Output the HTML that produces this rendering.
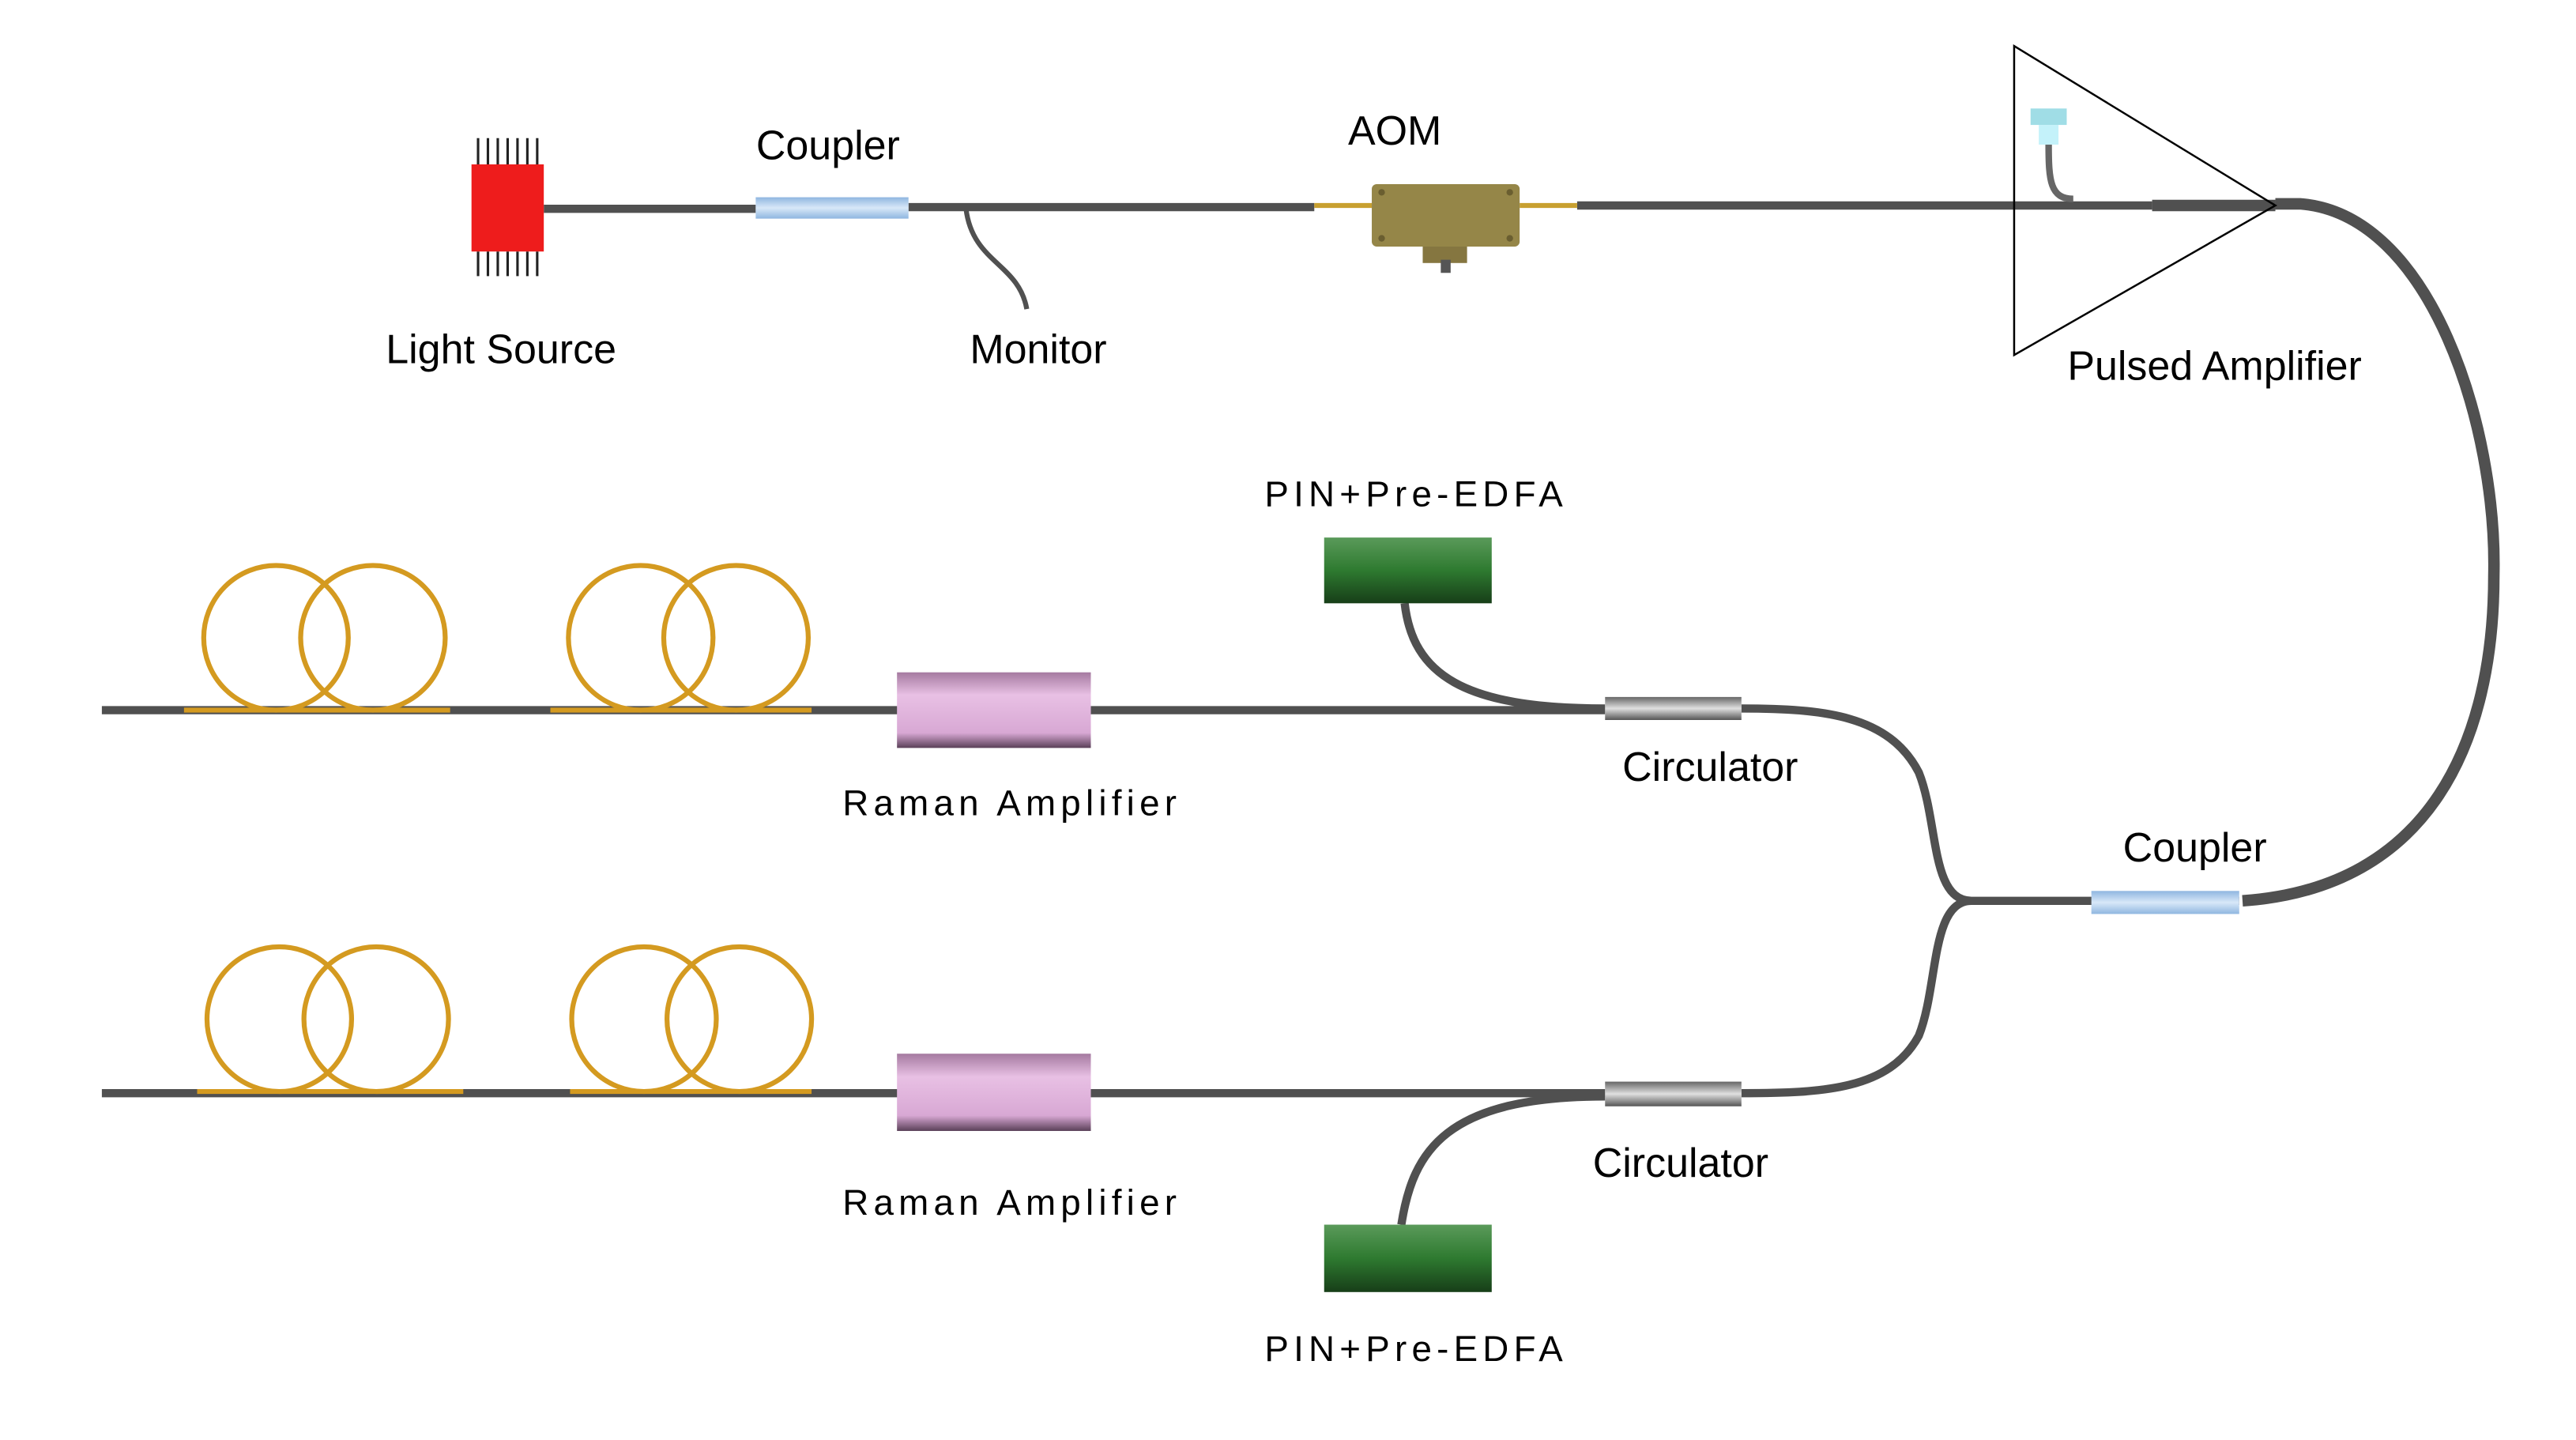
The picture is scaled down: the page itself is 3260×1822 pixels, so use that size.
<!DOCTYPE html>
<html><head><meta charset="utf-8"><style>html,body{margin:0;padding:0;background:#fff}svg{display:block}</style></head><body>
<svg width="3260" height="1822" viewBox="0 0 1568 876" preserveAspectRatio="none" xmlns="http://www.w3.org/2000/svg" font-family="Liberation Sans, sans-serif">
<defs>
<linearGradient id="cb" x1="0" y1="0" x2="0" y2="1"><stop offset="0" stop-color="#8fb6e0"/><stop offset=".5" stop-color="#d8e8f8"/><stop offset="1" stop-color="#8fb6e0"/></linearGradient>
<linearGradient id="cg" x1="0" y1="0" x2="0" y2="1"><stop offset="0" stop-color="#666"/><stop offset=".5" stop-color="#e0e0e0"/><stop offset="1" stop-color="#555"/></linearGradient>
<linearGradient id="pk" x1="0" y1="0" x2="0" y2="1"><stop offset="0" stop-color="#a57aa0"/><stop offset=".3" stop-color="#e8c0e4"/><stop offset=".8" stop-color="#d8a8d4"/><stop offset="1" stop-color="#5a4058"/></linearGradient>
<linearGradient id="gr" x1="0" y1="0" x2="0" y2="1"><stop offset="0" stop-color="#5a9a5a"/><stop offset=".5" stop-color="#2e7a30"/><stop offset="1" stop-color="#173e18"/></linearGradient>
</defs>
<g fill="none" stroke="#505050">
<path d="M331 127H460M553 126H800M960 125H1310" stroke-width="5"/>
<path d="M1310 125H1385" stroke-width="7"/>
<path d="M588 127C592 160 620 160 625 188" stroke-width="3"/>
<path d="M1247 88C1247 110 1248 121 1262 121" stroke-width="4" stroke="#666"/>
<path d="M1385 124H1400C1480 130 1520 260 1518 350C1518 450 1480 540 1365 548" stroke-width="7"/>
<path d="M1363 548H1200M1200 548C1175 548 1180 500 1168 470C1150 435 1110 431 1060 431M1200 548C1175 548 1180 600 1168 630C1150 663 1110 665 1060 665" stroke-width="5"/>
<path d="M62 432H977M62 665H977" stroke-width="5"/>
<path d="M855 367C860 410 890 431 977 431M853 745C860 700 880 667 977 667" stroke-width="5"/>
</g>
<path d="M800 125H835M925 125H960" stroke="#c8a030" stroke-width="3"/>
<rect x="835" y="112" width="90" height="38" rx="3" fill="#958648"/>
<rect x="866" y="150" width="27" height="10" fill="#857640"/><rect x="877" y="158" width="6" height="8" fill="#555"/>
<circle cx="841" cy="117" r="2" fill="#6a5e30"/><circle cx="919" cy="117" r="2" fill="#6a5e30"/><circle cx="841" cy="145" r="2" fill="#6a5e30"/><circle cx="919" cy="145" r="2" fill="#6a5e30"/>
<g stroke="#222" stroke-width="1.5"><path d="M291 84V100M297 84V100M303 84V100M309 84V100M315 84V100M321 84V100M327 84V100M291 153V168M297 153V168M303 153V168M309 153V168M315 153V168M321 153V168M327 153V168"/></g>
<rect x="287" y="100" width="44" height="53" fill="#ee1c1c"/>
<rect x="460" y="120" width="93" height="13" fill="url(#cb)"/>
<rect x="1273" y="542" width="90" height="14" fill="url(#cb)"/>
<polygon points="1226,28 1385,125 1226,216" fill="none" stroke="#000" stroke-width="1.2"/>
<rect x="1236" y="66" width="22" height="10" fill="#a0dde6"/><rect x="1241" y="76" width="12" height="12" fill="#c4f2fa"/>
<rect x="977" y="424" width="83" height="14" fill="url(#cg)"/>
<rect x="977" y="658" width="83" height="15" fill="url(#cg)"/>
<rect x="546" y="409" width="118" height="46" fill="url(#pk)"/>
<rect x="546" y="641" width="118" height="47" fill="url(#pk)"/>
<rect x="806" y="327" width="102" height="40" fill="url(#gr)"/>
<rect x="806" y="745" width="102" height="41" fill="url(#gr)"/>
<g fill="none" stroke="#d49a20" stroke-width="3">
<circle cx="168" cy="388" r="44"/><circle cx="227" cy="388" r="44"/><circle cx="390" cy="388" r="44"/><circle cx="448" cy="388" r="44"/>
<circle cx="170" cy="620" r="44"/><circle cx="229" cy="620" r="44"/><circle cx="392" cy="620" r="44"/><circle cx="450" cy="620" r="44"/>
<path d="M112 432H274M335 432H494M120 664H282M347 664H494" stroke-width="3"/>
</g>
<g font-size="25" text-anchor="middle" fill="#000">
<text x="504" y="97">Coupler</text>
<text x="849" y="88">AOM</text>
<text x="305" y="221">Light Source</text>
<text x="632" y="221">Monitor</text>
<text x="1348" y="231">Pulsed Amplifier</text>
<text x="1041" y="475">Circulator</text>
<text x="1023" y="716">Circulator</text>
<text x="1336" y="524">Coupler</text>
</g>
<g font-size="22" text-anchor="middle" letter-spacing="3" fill="#000">
<text x="616" y="496">Raman Amplifier</text>
<text x="616" y="739">Raman Amplifier</text>
<text x="862" y="308">PIN+Pre-EDFA</text>
<text x="862" y="828">PIN+Pre-EDFA</text>
</g>
</svg>
</body></html>
